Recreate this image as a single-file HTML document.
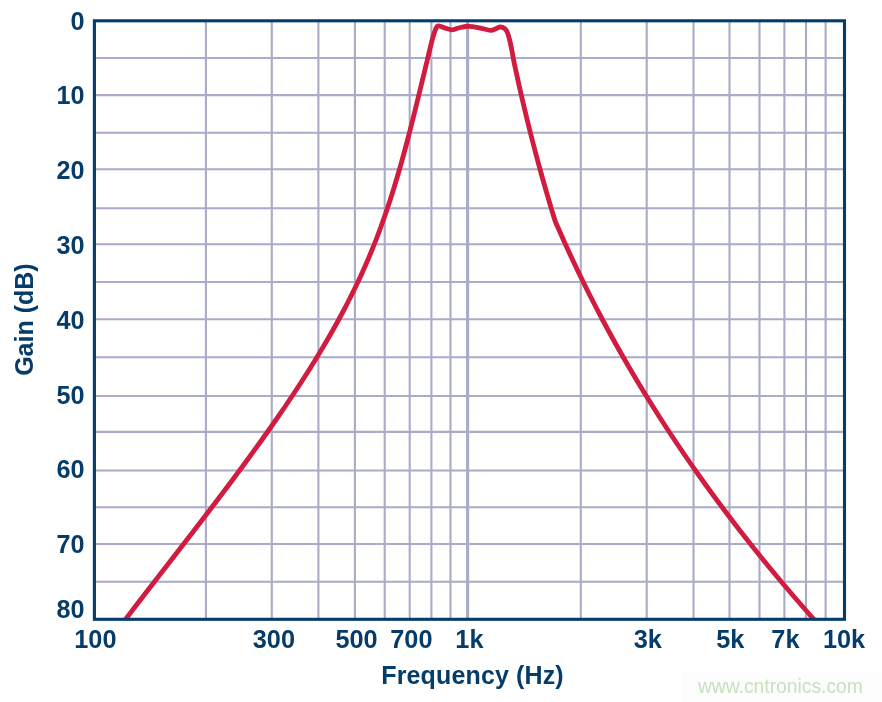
<!DOCTYPE html>
<html><head><meta charset="utf-8"><title>Gain vs Frequency</title>
<style>html,body{margin:0;padding:0;background:#fff;}body{width:882px;height:702px;position:relative;overflow:hidden;font-family:"Liberation Sans",sans-serif;}svg text{font-family:"Liberation Sans",sans-serif;}</style>
</head><body>
<svg width="882" height="702" viewBox="0 0 882 702" style="position:absolute;left:0;top:0;will-change:transform">
<defs><clipPath id="cp"><rect x="94.4" y="20.8" width="750.1" height="598.5"/></clipPath></defs>
<path d="M93 57.95H843 M93 95.10H843 M93 132.70H843 M93 169.20H843 M93 208.30H843 M93 244.20H843 M93 282.00H843 M93 319.30H843 M93 357.30H843 M93 396.00H843 M93 431.90H843 M93 470.50H843 M93 507.30H843 M93 544.00H843 M93 581.80H843 M205.90 20.6V619.2 M271.80 20.6V619.2 M318.40 20.6V619.2 M354.90 20.6V619.2 M384.70 20.6V619.2 M409.70 20.6V619.2 M431.40 20.6V619.2 M450.50 20.6V619.2 M580.80 20.6V619.2 M646.70 20.6V619.2 M693.50 20.6V619.2 M729.50 20.6V619.2 M759.50 20.6V619.2 M784.40 20.6V619.2 M806.00 20.6V619.2 M825.60 20.6V619.2" stroke="#a8acc8" stroke-width="2.1" fill="none"/>
<path d="M467.6 20.6V619.2" stroke="#a8acc8" stroke-width="3.1" fill="none"/>
<path d="M122.68 623.00 C124.21 621.00 128.79 615.00 131.85 611.00 C134.92 607.00 138.00 603.00 141.08 599.00 C144.16 595.00 147.25 591.00 150.34 587.00 C153.43 583.00 156.53 579.00 159.62 575.00 C162.72 571.00 165.82 567.00 168.92 563.00 C172.02 559.00 175.12 555.00 178.21 551.00 C181.31 547.00 184.40 543.00 187.49 539.00 C190.58 535.00 193.67 531.00 196.74 527.00 C199.82 523.00 202.89 519.00 205.95 515.00 C209.01 511.00 212.07 507.00 215.11 503.00 C218.15 499.00 221.18 495.00 224.19 491.00 C227.21 487.00 230.21 483.00 233.20 479.00 C236.18 475.00 239.15 471.00 242.11 467.00 C245.06 463.00 247.99 459.00 250.91 455.00 C253.82 451.00 256.72 447.00 259.59 443.00 C262.46 439.00 265.31 435.00 268.14 431.00 C270.96 427.00 273.76 423.00 276.54 419.00 C279.31 415.00 282.06 411.00 284.78 407.00 C287.50 403.00 290.19 399.00 292.84 395.00 C295.50 391.00 298.13 387.00 300.72 383.00 C303.32 379.00 305.88 375.00 308.40 371.00 C310.93 367.00 313.42 363.00 315.87 359.00 C318.32 355.00 320.74 351.00 323.11 347.00 C325.48 343.00 327.82 339.00 330.11 335.00 C332.40 331.00 334.65 327.00 336.86 323.00 C339.06 319.00 341.23 315.00 343.34 311.00 C345.46 307.00 347.93 302.17 349.54 299.00 C351.16 295.83 351.80 294.50 353.03 292.00 C354.26 289.50 355.59 286.83 356.95 284.00 C358.30 281.17 359.57 278.50 361.17 275.00 C362.76 271.50 364.79 267.00 366.52 263.00 C368.25 259.00 369.94 255.00 371.57 251.00 C373.21 247.00 374.80 243.00 376.34 239.00 C377.89 235.00 379.39 231.00 380.85 227.00 C382.31 223.00 383.73 219.00 385.12 215.00 C386.51 211.00 387.85 207.00 389.17 203.00 C390.48 199.00 391.76 195.00 393.01 191.00 C394.26 187.00 395.48 183.00 396.67 179.00 C397.86 175.00 399.02 171.00 400.17 167.00 C401.31 163.00 402.42 159.00 403.52 155.00 C404.62 151.00 405.69 147.00 406.75 143.00 C407.81 139.00 408.85 135.00 409.88 131.00 C410.91 127.00 411.92 123.00 412.92 119.00 C413.92 115.00 414.91 111.00 415.90 107.00 C416.88 103.00 417.86 99.00 418.83 95.00 C419.80 91.00 420.77 87.00 421.73 83.00 C422.70 79.00 423.71 74.83 424.64 71.00 C425.56 67.17 426.00 65.40 427.31 60.00 C428.62 54.60 431.10 43.77 432.50 38.60 C433.90 33.43 434.77 31.12 435.70 29.00 C436.63 26.88 436.65 26.10 438.10 25.90 C439.55 25.70 442.02 27.15 444.40 27.80 C446.78 28.45 449.75 29.85 452.40 29.80 C455.05 29.75 457.53 28.08 460.30 27.50 C463.07 26.92 465.82 26.25 469.00 26.30 C472.18 26.35 475.82 27.13 479.40 27.80 C482.98 28.47 487.87 30.10 490.50 30.30 C493.13 30.50 493.62 29.55 495.20 29.00 C496.78 28.45 498.40 27.05 500.00 27.00 C501.60 26.95 503.48 27.57 504.80 28.70 C506.12 29.83 506.85 30.83 507.90 33.80 C508.95 36.77 510.15 42.13 511.10 46.50 C512.05 50.87 512.76 55.75 513.60 60.00 C514.44 64.25 515.29 68.00 516.15 72.00 C517.02 76.00 517.90 80.00 518.79 84.00 C519.68 88.00 520.59 92.00 521.51 96.00 C522.43 100.00 523.37 104.00 524.32 108.00 C525.27 112.00 526.23 116.00 527.21 120.00 C528.19 124.00 529.18 128.00 530.19 132.00 C531.20 136.00 532.22 140.00 533.26 144.00 C534.30 148.00 535.35 152.00 536.42 156.00 C537.48 160.00 538.57 164.00 539.66 168.00 C540.76 172.00 541.87 176.00 543.00 180.00 C544.13 184.00 545.27 188.00 546.43 192.00 C547.58 196.00 548.81 200.17 549.95 204.00 C551.08 207.83 552.36 212.12 553.25 215.00 C554.15 217.88 554.56 219.30 555.31 221.30 C556.06 223.30 556.70 224.55 557.77 227.00 C558.84 229.45 560.16 232.50 561.72 236.00 C563.28 239.50 565.30 244.00 567.12 248.00 C568.95 252.00 570.79 256.00 572.67 260.00 C574.54 264.00 576.44 268.00 578.36 272.00 C580.29 276.00 582.24 280.00 584.21 284.00 C586.19 288.00 588.19 292.00 590.21 296.00 C592.24 300.00 594.29 304.00 596.37 308.00 C598.44 312.00 600.54 316.00 602.67 320.00 C604.80 324.00 606.96 328.00 609.14 332.00 C611.32 336.00 613.53 340.00 615.76 344.00 C617.99 348.00 620.25 352.00 622.54 356.00 C624.83 360.00 627.14 364.00 629.48 368.00 C631.82 372.00 634.19 376.00 636.58 380.00 C638.97 384.00 641.40 388.00 643.84 392.00 C646.29 396.00 648.77 400.00 651.27 404.00 C653.78 408.00 656.31 412.00 658.86 416.00 C661.42 420.00 664.01 424.00 666.62 428.00 C669.24 432.00 671.88 436.00 674.55 440.00 C677.22 444.00 679.92 448.00 682.65 452.00 C685.37 456.00 688.13 460.00 690.91 464.00 C693.70 468.00 696.51 472.00 699.35 476.00 C702.19 480.00 705.06 484.00 707.96 488.00 C710.86 492.00 713.79 496.00 716.75 500.00 C719.71 504.00 722.69 508.00 725.71 512.00 C728.73 516.00 731.77 520.00 734.85 524.00 C737.92 528.00 741.03 532.00 744.16 536.00 C747.30 540.00 750.46 544.00 753.66 548.00 C756.85 552.00 760.08 556.00 763.33 560.00 C766.59 564.00 769.87 568.00 773.19 572.00 C776.51 576.00 779.85 580.00 783.23 584.00 C786.61 588.00 790.02 592.00 793.46 596.00 C796.90 600.00 800.37 604.00 803.87 608.00 C807.37 612.00 812.70 618.00 814.47 620.00" stroke="#d11c40" stroke-width="4.85" fill="none" stroke-linejoin="round" stroke-linecap="butt" clip-path="url(#cp)"/>
<rect x="94.4" y="20.8" width="750.1" height="598.5" fill="none" stroke="#053c6a" stroke-width="3.1"/>
<text x="84.6" y="29.5" font-size="25.2" text-anchor="end" font-weight="bold" fill="#053c6a">0</text>
<text x="84.6" y="104.3" font-size="25.2" text-anchor="end" font-weight="bold" fill="#053c6a">10</text>
<text x="84.6" y="179.1" font-size="25.2" text-anchor="end" font-weight="bold" fill="#053c6a">20</text>
<text x="84.6" y="253.9" font-size="25.2" text-anchor="end" font-weight="bold" fill="#053c6a">30</text>
<text x="84.6" y="328.8" font-size="25.2" text-anchor="end" font-weight="bold" fill="#053c6a">40</text>
<text x="84.6" y="403.6" font-size="25.2" text-anchor="end" font-weight="bold" fill="#053c6a">50</text>
<text x="84.6" y="478.4" font-size="25.2" text-anchor="end" font-weight="bold" fill="#053c6a">60</text>
<text x="84.6" y="553.3" font-size="25.2" text-anchor="end" font-weight="bold" fill="#053c6a">70</text>
 <text x="84.6" y="617.8" font-size="25.2" text-anchor="end" font-weight="bold" fill="#053c6a">80</text>
<text x="95.4"  y="648.1" font-size="25.3" text-anchor="middle" font-weight="bold" fill="#053c6a">100</text>
<text x="273.9"  y="648.1" font-size="25.3" text-anchor="middle" font-weight="bold" fill="#053c6a">300</text>
<text x="356.6"  y="648.1" font-size="25.3" text-anchor="middle" font-weight="bold" fill="#053c6a">500</text>
<text x="411.4"  y="648.1" font-size="25.3" text-anchor="middle" font-weight="bold" fill="#053c6a">700</text>
<text x="469.4"  y="648.1" font-size="25.3" text-anchor="middle" font-weight="bold" fill="#053c6a">1k</text>
<text x="647.8"  y="648.1" font-size="25.3" text-anchor="middle" font-weight="bold" fill="#053c6a">3k</text>
<text x="730.2"  y="648.1" font-size="25.3" text-anchor="middle" font-weight="bold" fill="#053c6a">5k</text>
<text x="785.4"  y="648.1" font-size="25.3" text-anchor="middle" font-weight="bold" fill="#053c6a">7k</text>
<text x="844.1"  y="648.1" font-size="25.3" text-anchor="middle" font-weight="bold" fill="#053c6a">10k</text>
<text x="381.3" y="683.9" font-size="25" textLength="182.4" lengthAdjust="spacing" font-weight="bold" fill="#053c6a">Frequency (Hz)</text>
<text transform="translate(32.7 319.6) rotate(-90)" font-size="25" text-anchor="middle" font-weight="bold" fill="#053c6a">Gain (dB)</text>
<rect x="682" y="672" width="200" height="30" fill="#fdfdfd"/>
 <text x="780.4" y="693" font-size="19.3" text-anchor="middle" fill="#c4e2be">www.cntronics.com</text>
</svg>
</body></html>
